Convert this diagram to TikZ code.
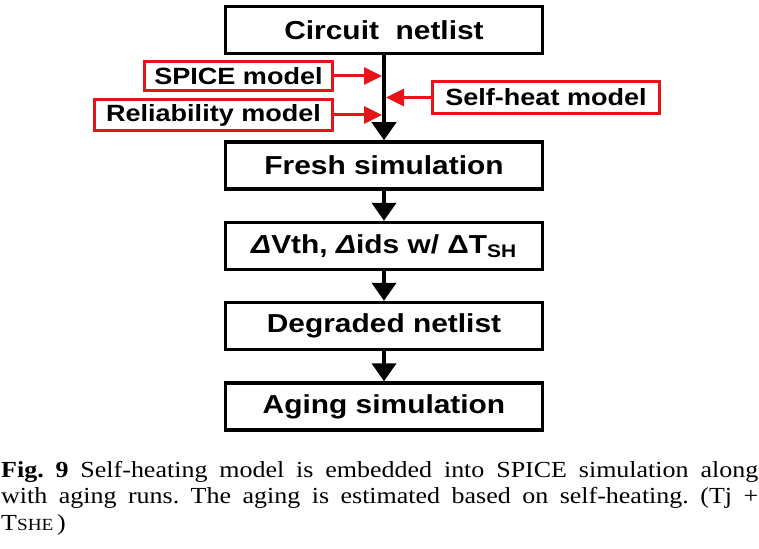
\documentclass[tikz,border=0pt]{standalone}
\usepackage{fontspec}
\setmainfont{Liberation Serif}[FakeStretch=1.13]
\newfontfamily\flowfont{Liberation Sans}[FakeStretch=1.15]
\usetikzlibrary{arrows.meta,calc,positioning}
\definecolor{modelred}{RGB}{228,20,24}

\begin{document}
\begin{tikzpicture}[x=1pt,y=-1pt,
        stepbox/.style={draw,line width=3.5pt,minimum width=317pt,minimum height=47pt,inner sep=0pt,
            font=\flowfont\bfseries\fontsize{26}{30}\selectfont},
        modelbox/.style={draw=modelred,fill=white,line width=3pt,inner sep=0pt,
            font=\flowfont\bfseries\fontsize{23.5}{28}\selectfont},
        flow/.style={-{Triangle[length=18pt,width=24pt]},line width=4pt},
        feed/.style={-{Triangle[length=18pt,width=17pt]},line width=3pt,modelred,shorten >=2pt}]
        \useasboundingbox (0,0) rectangle (759,548);

        % main flow boxes
        \node[stepbox] (circuit) at (384,30) {Circuit\ \ netlist};
        \node[stepbox] (fresh) at (384,165.5) {Fresh simulation};
        \node[stepbox] (shift) at (384,246) {{\itshape Δ}Vth, {\itshape Δ}ids w/ ΔT\textsubscript{SH}};
        \node[stepbox] (degraded) at (384,326) {Degraded netlist};
        \node[stepbox] (aging) at (384,406.5) {Aging simulation};

        % model inputs
        \node[modelbox,minimum width=188pt,minimum height=29pt] (spice) at (238.5,76) {SPICE model};
        \node[modelbox,minimum width=238pt,minimum height=31pt] (reliab) at (213.5,115) {Reliability model};
        \node[modelbox,minimum width=227pt,minimum height=32pt] (selfheat) at (546,97.5) {Self-heat model};

        % arrows down the flow
        \draw[flow] (circuit) -- (fresh);
        \foreach \a/\b in {fresh/shift,shift/degraded,degraded/aging}{
            \draw[flow] (\a) -- (\b);
        }

        % points where the models join the trunk
        \coordinate (tspice) at (spice.east -| circuit.south);
        \coordinate (treliab) at (reliab.east -| circuit.south);
        \coordinate (tselfheat) at (selfheat.west -| circuit.south);
        \draw[feed] (spice) -- (tspice);
        \draw[feed] (reliab) -- (treliab);
        \draw[feed] (selfheat) -- (tselfheat);

        % caption
        \node[anchor=base west,inner sep=0pt,text width=757pt,align=justify,
            font=\frenchspacing\fontsize{23}{26.5}\selectfont] (caption) at (1,477)
            {\textbf{Fig. 9} Self-heating model is embedded into SPICE simulation along\linebreak
            with aging runs. The aging is estimated based on self-heating. (Tj +\linebreak
            T{\fontsize{17}{17}\selectfont SHE}\,)};
\end{tikzpicture}
\end{document}
